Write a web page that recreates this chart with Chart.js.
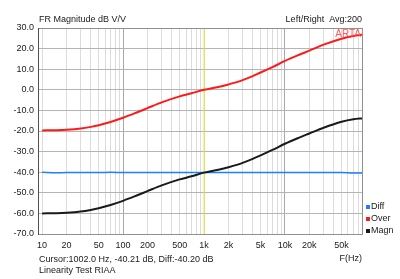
<!DOCTYPE html>
<html>
<head>
<meta charset="utf-8">
<script src="https://cdn.jsdelivr.net/npm/chart.js@4/dist/chart.umd.min.js"></script>
<style>
  html, body { margin: 0; padding: 0; background: #fff; }
  #fr { display: block; }
</style>
</head>
<body>
<canvas id="fr" width="400" height="279"></canvas>
<script>
// frequency points (Hz)
const freqs = [10, 15, 20, 30, 40, 50, 70, 100, 150, 200, 300, 500, 700, 1000, 1500, 2000, 3000, 5000, 7000, 10000, 15000, 20000, 30000, 50000, 70000, 92000]
// red "Over" curve, dB
const overDb = [-19.7, -19.6, -19.4, -18.8, -18.0, -17.2, -15.6, -13.6, -10.9, -8.9, -6.1, -3.2, -1.7, 0.0, 1.4, 2.6, 4.7, 8.4, 11.0, 14.0, 17.0, 19.0, 21.9, 24.8, 26.1, 26.8]
// black "Magn" curve, dB
const magnDb = [-60.0, -59.9, -59.7, -59.1, -58.3, -57.5, -55.9, -53.9, -51.2, -49.2, -46.4, -43.5, -42.0, -40.2, -38.8, -37.6, -35.5, -31.8, -29.2, -26.2, -23.2, -21.2, -18.4, -15.5, -14.3, -13.8]
// blue "Diff" curve, dB
const diffDb = [-40.0, -40.3, -40.2, -40.2, -40.2, -40.2, -40.0, -40.2, -40.2, -40.2, -40.2, -40.2, -40.2, -40.2, -40.2, -40.2, -40.2, -40.2, -40.2, -40.2, -40.2, -40.2, -40.2, -40.2, -40.4, -40.4]

// cursor (yellow vertical line)
const cursorFreq = [1002, 1002]
const cursorDb = [30, -70]

// x tick labels
const xTickVals = [10, 20, 50, 100, 200, 500, 1000, 2000, 5000, 10000, 20000, 50000]
const xTickText = ['10', '20', '50', '100', '200', '500', '1k', '2k', '5k', '10k', '20k', '50k']

const FONT = 'Liberation Sans, Arial, sans-serif'

function pts(xs, ys) {
  return xs.map((x, i) => ({ x: x, y: ys[i] }))
}

// grid lines at 1..9 x each decade
const gridFreqs = []
for (let d = 10; d <= 10000; d *= 10) {
  for (let m = 1; m <= 9; m++) gridFreqs.push(d * m)
}

const extras = {
  id: 'extras',
  afterDraw(chart) {
    const ctx = chart.ctx
    const a = chart.chartArea
    ctx.save()
    // frame
    ctx.strokeStyle = '#909090'
    ctx.lineWidth = 1
    ctx.strokeRect(a.left + 0.5, a.top + 0.5, a.right - a.left - 1, a.bottom - a.top)
    ctx.strokeStyle = '#505050'
    ctx.beginPath()
    ctx.moveTo(a.left + 0.5, a.top)
    ctx.lineTo(a.left + 0.5, a.bottom + 1)
    ctx.stroke()

    ctx.font = '9px ' + FONT
    ctx.textBaseline = 'middle'
    ctx.fillStyle = '#202020'
    ctx.textAlign = 'left'
    ctx.fillText('FR Magnitude dB V/V', 39, 20)
    ctx.fillText('Cursor:1002.0 Hz, -40.21 dB, Diff:-40.20 dB', 39, 260)
    ctx.fillText('Linearity Test RIAA', 39, 271)
    ctx.textAlign = 'right'
    ctx.fillText('Left/Right  Avg:200', 362, 20)
    ctx.fillText('F(Hz)', 362, 259)
    ctx.fillStyle = '#ff5a5a'
    ctx.font = '10px ' + FONT
    ctx.fillText('ARTA', 361, 34)

    // legend
    ctx.font = '9px ' + FONT
    ctx.textAlign = 'left'
    const items = [2, 0, 1]
    items.forEach((di, k) => {
      const ds = chart.data.datasets[di]
      const y = 207 + k * 12
      ctx.fillStyle = ds.borderColor
      ctx.fillRect(366, y - 2, 4, 4)
      ctx.fillStyle = '#202020'
      ctx.fillText(ds.label, 371, y)
    })
    ctx.restore()
  }
}

new Chart(document.getElementById('fr').getContext('2d'), {
  type: 'line',
  data: {
    datasets: [
      { label: 'Over', data: pts(freqs, overDb), borderColor: '#ff1a1a', borderWidth: 2 },
      { label: 'Magn', data: pts(freqs, magnDb), borderColor: '#1a1a1a', borderWidth: 2 },
      { label: 'Diff', data: pts(freqs, diffDb), borderColor: '#1f7fff', borderWidth: 1.5, tension: 0 },
      { label: 'cursor', data: pts(cursorFreq, cursorDb), borderColor: '#e6e22a', borderWidth: 1, tension: 0 }
    ]
  },
  options: {
    responsive: false,
    animation: false,
    events: [],
    layout: { padding: { left: 0, right: 37, top: 28, bottom: 0 } },
    elements: {
      point: { radius: 0 },
      line: { cubicInterpolationMode: 'monotone' }
    },
    plugins: {
      legend: { display: false },
      tooltip: { enabled: false }
    },
    scales: {
      x: {
        type: 'logarithmic',
        min: 8.9,
        max: 92000,
        afterBuildTicks(scale) {
          scale.ticks = gridFreqs.map(v => ({ value: v }))
        },
        afterFit(scale) { scale.height = 45 },
        grid: {
          drawTicks: false,
          color(c) {
            const v = c.tick && c.tick.value
            if (v === 100 || v === 10000) return '#a8a8a8'
            return '#dcdcdc'
          }
        },
        border: { display: false },
        ticks: {
          autoSkip: false,
          maxRotation: 0,
          padding: 6,
          color: '#202020',
          font: { family: FONT, size: 9 },
          callback(v) {
            const i = xTickVals.indexOf(v)
            return i >= 0 ? xTickText[i] : ''
          }
        }
      },
      y: {
        min: -70,
        max: 30,
        afterFit(scale) { scale.width = 38 },
        grid: { drawTicks: false, color: '#b4b4b4' },
        border: { display: false },
        ticks: {
          stepSize: 10,
          padding: 4,
          color: '#202020',
          font: { family: FONT, size: 9 },
          callback(v) { return v.toFixed(1) }
        }
      }
    }
  },
  plugins: [extras]
})
</script>
</body>
</html>
